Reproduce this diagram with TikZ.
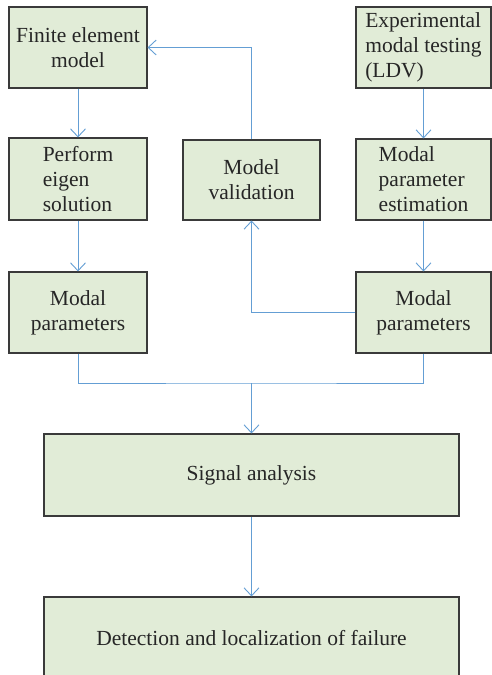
\documentclass[tikz,border=0pt]{standalone}
\usepackage{fontspec}
\setmainfont{Liberation Serif}
\usetikzlibrary{arrows.meta}
\definecolor{boxgreen}{RGB}{225,236,215}
\definecolor{boxline}{RGB}{58,58,58}
\definecolor{linkblue}{RGB}{100,158,212}

\begin{document}
\begin{tikzpicture}[x=1pt,y=-1pt,
  box/.style={draw=boxline, line width=1.1pt, fill=boxgreen, inner sep=2pt,
    font=\fontsize{21.5}{25}\selectfont, text=black!85},
  link/.style={linkblue, line width=0.9pt, -{Straight Barb[length=8pt,width=15pt]}}]

\useasboundingbox (0,0) rectangle (491,675);

\node[box, minimum width=138pt, minimum height=81pt, align=center] (fem) at (78,47.5) {Finite element\\model};
\node[box, minimum width=138pt, minimum height=82pt, align=left] (eig) at (78,179) {Perform\\eigen\\solution};
\node[box, minimum width=137pt, minimum height=80pt, align=center] (val) at (251.5,180) {Model\\validation};
\node[box, minimum width=135pt, minimum height=81pt, align=left] (exp) at (423.5,47.5) {Experimental\\modal testing\\(LDV)};
\node[box, minimum width=135pt, minimum height=81pt, align=left] (est) at (423.5,179.5) {Modal\\parameter\\estimation};
\node[box, minimum width=138pt, minimum height=81pt, align=center] (modl) at (78,312.5) {Modal\\parameters};
\node[box, minimum width=135pt, minimum height=81pt, align=center] (modr) at (423.5,312.5) {Modal\\parameters};
\node[box, minimum width=415pt, minimum height=82pt] (sig) at (251.5,475) {Signal analysis};
\node[box, minimum width=415pt, minimum height=82pt] (det) at (251.5,638) {Detection and localization of failure};

\coordinate (join) at (251.5,383);

\draw[link] (fem) -- (eig);
\draw[link] (exp) -- (est);
\draw[link] (eig) -- (modl);
\draw[link] (est) -- (modr);
\draw[link] (modr.west) -| (val.south);
\draw[link] (val.north) |- (fem.east);
\draw[link, -] (modl.south) |- (join) -| (modr.south);
\draw[link] (join) -- (sig);
\draw[link] (sig) -- (det);

\end{tikzpicture}
\end{document}
